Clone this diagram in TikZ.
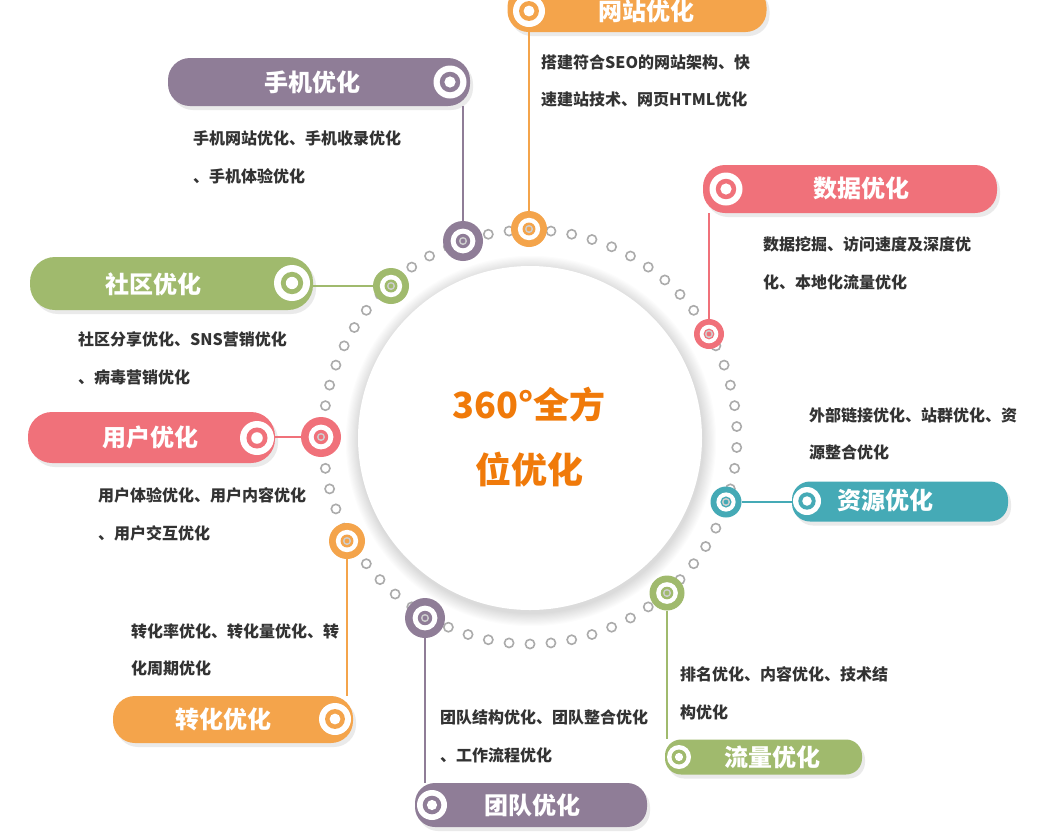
\documentclass[tikz,border=0pt]{standalone}
\usepackage{fontspec}
\setmainfont{Noto Sans CJK SC}
\usetikzlibrary{shadows}
\definecolor{cpur}{HTML}{8F7D97}
\definecolor{corg}{HTML}{F4A44B}
\definecolor{cpnk}{HTML}{F0717A}
\definecolor{cgrn}{HTML}{A0BA6D}
\definecolor{ctel}{HTML}{45AAB6}
\definecolor{cgry}{HTML}{ABABAB}
\definecolor{ctxt}{HTML}{333333}
\definecolor{cctr}{HTML}{F07A0A}
\newcommand\mydot[4]{%
  \node[circle, fill=#2, minimum size={2*#4}, inner sep=0pt] (#1) at #3 {};
  \fill[white] (#1.center) circle ({0.62*#4});
  \fill[#2] (#1.center) circle ({0.36*#4});
  \draw[cgry!60, line width=1.4pt] (#1.center) circle (3.3);
}
\newcommand\pillicon[3]{%
  \fill[white] #2 circle (#3);
  \fill[#1] #2 circle ({0.62*#3});
  \fill[white] #2 circle ({0.34*#3});
}
\begin{document}
\begin{tikzpicture}[x=1pt,y=-1pt,
  pill/.style={rectangle, inner sep=0pt, draw=none,
    drop shadow={opacity=0.16, shadow xshift=3pt, shadow yshift=-4pt}},
  ttl/.style={text=white, font=\bfseries\fontsize{24}{24}\selectfont, inner sep=0pt},
  body/.style={anchor=west, text=ctxt, font=\bfseries\fontsize{16}{16}\selectfont, inner sep=0pt},
  link/.style={line width=2.4pt},
  thinlink/.style={line width=2pt},
  ctrtxt/.style={text=cctr, font=\bfseries\fontsize{36}{36}\selectfont, inner sep=0pt},
]
\useasboundingbox (0,0) rectangle (1047,836);
\clip (0,0) rectangle (1047,836);
\fill[white] (0,0) rectangle (1047,836);

% central circle with soft shadow
\foreach \i in {1,...,12}{
  \fill[black, opacity=0.011] (531,441) circle ({172+\i*1.1});
}
\node[circle, fill=white, minimum size=344pt, inner sep=0pt] (ctr) at (530,438) {};
\node[ctrtxt] (ctra) at (529,405) {360°全方};
\node[ctrtxt] (ctrb) at (529,470) {位优化};

% dotted ring
\foreach \k in {0,...,61}{
  \pgfmathsetmacro\ang{90+\k*5.80645}
  \draw[cgry, line width=1.6pt] ({530+207*cos(\ang)},{437+207*sin(\ang)}) circle (4.6);
}

% pills
\node[pill, fill=cpur, rounded corners=22pt, minimum width=302pt, minimum height=48pt] (p1) at (319,82) {};
\node[pill, fill=corg, rounded corners=21pt, minimum width=259pt, minimum height=46pt] (p2) at (637,9) {};
\node[pill, fill=cpnk, rounded corners=22pt, minimum width=294pt, minimum height=48pt] (p3) at (850,189) {};
\node[pill, fill=ctel, rounded corners=18pt, minimum width=216pt, minimum height=40pt] (p4) at (900,501.5) {};
\node[pill, fill=cgrn, rounded corners=16pt, minimum width=197pt, minimum height=35pt] (p5) at (763.5,757) {};
\node[pill, fill=cpur, rounded corners=20pt, minimum width=232pt, minimum height=44pt] (p6) at (531,805) {};
\node[pill, fill=corg, rounded corners=22pt, minimum width=240pt, minimum height=47pt] (p7) at (233,719.5) {};
\node[pill, fill=cpnk, rounded corners=24pt, minimum width=247pt, minimum height=51pt] (p8) at (151.5,437.5) {};
\node[pill, fill=cgrn, rounded corners=25pt, minimum width=283pt, minimum height=53pt] (p9) at (171.5,283.5) {};

% dots on ring
\mydot{d1}{cpur}{(463,241)}{20}
\mydot{d2}{corg}{(529,229)}{18}
\mydot{d3}{cpnk}{(709,334)}{15}
\mydot{d4}{ctel}{(726,502)}{15.5}
\mydot{d5}{cgrn}{(667,593)}{17.5}
\mydot{d6}{cpur}{(425,618)}{20}
\mydot{d7}{corg}{(347,541)}{18}
\mydot{d8}{cpnk}{(321,437)}{20}
\mydot{d9}{cgrn}{(391,286)}{18}

% connectors
\draw[cpur, link] (d1.north) -- (d1.north |- p1.south);
\draw[corg, link] (d2.north) -- (d2.north |- p2.south);
\draw[cpnk, thinlink] (d3.north) -- (d3.north |- p3.south);
\draw[ctel, thinlink] (d4.east) -- (d4.east -| p4.west);
\draw[cgrn, thinlink] (d5.south) -- (d5.south |- p5.north);
\draw[cpur, link] (d6.south) -- (d6.south |- p6.north);
\draw[corg, thinlink] (d7.south) -- (d7.south |- p7.north);
\draw[cpnk, thinlink] (d8.west) -- (d8.west -| p8.east);
\draw[cgrn, thinlink] (d9.west) -- (d9.west -| p9.east);

% icons in pills
\pillicon{cpur}{(450,82)}{16.5}
\pillicon{corg}{(529,11)}{16}
\pillicon{cpnk}{(726,189)}{16.5}
\pillicon{ctel}{(807,501)}{14}
\pillicon{cgrn}{(679,757)}{12}
\pillicon{cpur}{(432,805)}{15}
\pillicon{corg}{(335,719)}{16}
\pillicon{cpnk}{(257,438)}{17}
\pillicon{cgrn}{(292,283)}{18}

% titles
\node[ttl] (t1) at (312,82) {手机优化};
\node[ttl] (t2) at (646,11) {网站优化};
\node[ttl] (t3) at (861,188) {数据优化};
\node[ttl] (t4) at (885,500) {资源优化};
\node[ttl] (t5) at (772,757) {流量优化};
\node[ttl] (t6) at (532,805) {团队优化};
\node[ttl] (t7) at (223,719) {转化优化};
\node[ttl] (t8) at (150,437) {用户优化};
\node[ttl] (t9) at (153,284) {社区优化};

% body texts
\node[body] (b1a) at (193,138) {手机网站优化、手机收录优化};
\node[body] (b1b) at (193,176) {、手机体验优化};
\node[body] (b2a) at (541,62) {搭建符合SEO的网站架构、快};
\node[body] (b2b) at (541,99) {速建站技术、网页HTML优化};
\node[body] (b3a) at (763,244) {数据挖掘、访问速度及深度优};
\node[body] (b3b) at (763,282) {化、本地化流量优化};
\node[body] (b4a) at (809,415) {外部链接优化、站群优化、资};
\node[body] (b4b) at (809,452) {源整合优化};
\node[body] (b5a) at (680,674) {排名优化、内容优化、技术结};
\node[body] (b5b) at (680,712) {构优化};
\node[body] (b6a) at (440,717) {团队结构优化、团队整合优化};
\node[body] (b6b) at (440,755) {、工作流程优化};
\node[body] (b7a) at (131,631) {转化率优化、转化量优化、转};
\node[body] (b7b) at (131,668) {化周期优化};
\node[body] (b8a) at (98,495) {用户体验优化、用户内容优化};
\node[body] (b8b) at (98,533) {、用户交互优化};
\node[body] (b9a) at (78,339) {社区分享优化、SNS营销优化};
\node[body] (b9b) at (78,377) {、病毒营销优化};
\end{tikzpicture}
\end{document}
